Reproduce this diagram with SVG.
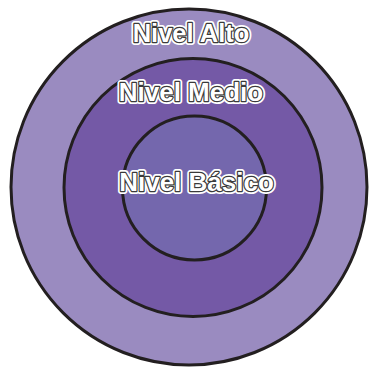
<svg xmlns="http://www.w3.org/2000/svg" width="369" height="368" viewBox="0 0 369 368">
<style>
.ring{stroke:#231f20;stroke-width:3}
.lbl{font-family:"Liberation Sans",Arial,sans-serif;font-weight:bold;font-size:26px;text-anchor:middle}
.halo{fill:#fff;stroke:#fff;stroke-width:6;stroke-linejoin:round}
.edge{fill:#3a3a3a;stroke:#3a3a3a;stroke-width:2.4;stroke-linejoin:round}
.face{fill:#fff}
</style>
<rect width="369" height="368" fill="#fff"/>
<g id="nivel-alto">
<circle class="ring" cx="189" cy="187" r="178" fill="#9a8bc0"/>
</g>
<g id="nivel-medio">
<circle class="ring" cx="193" cy="187.5" r="129" fill="#7459a6"/>
</g>
<g id="nivel-basico">
<circle class="ring" cx="194.5" cy="188" r="72" fill="#7467ad"/>
</g>
<g id="labels">
<text class="lbl halo" x="191" y="42" style="font-size:25.5px">Nivel Alto</text>
<text class="lbl edge" x="191" y="42" style="font-size:25.5px">Nivel Alto</text>
<text class="lbl face" x="191" y="42" style="font-size:25.5px">Nivel Alto</text>
<text class="lbl halo" x="191" y="101">Nivel Medio</text>
<text class="lbl edge" x="191" y="101">Nivel Medio</text>
<text class="lbl face" x="191" y="101">Nivel Medio</text>
<text class="lbl halo" x="196.5" y="191">Nivel Básico</text>
<text class="lbl edge" x="196.5" y="191">Nivel Básico</text>
<text class="lbl face" x="196.5" y="191">Nivel Básico</text>
</g>
</svg>
